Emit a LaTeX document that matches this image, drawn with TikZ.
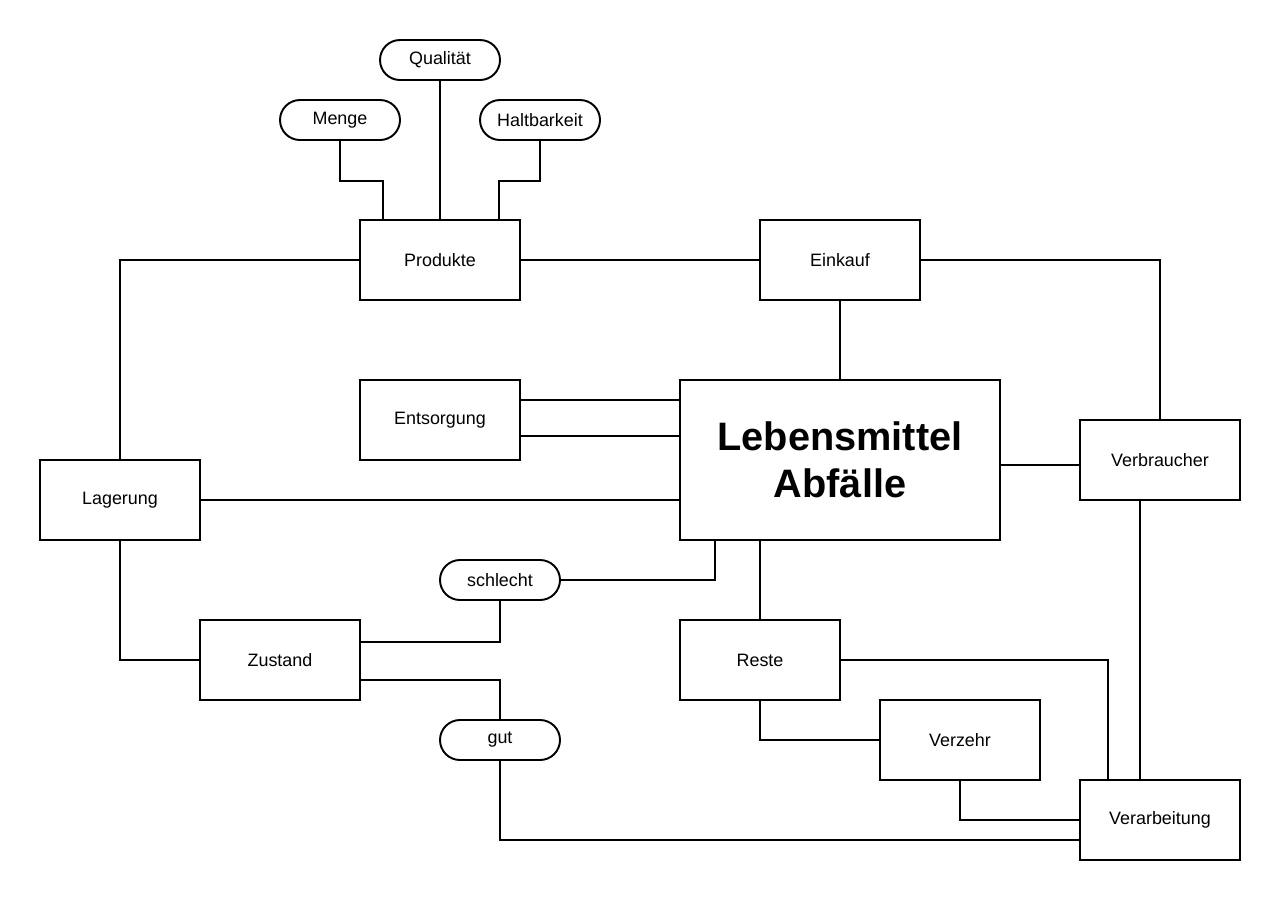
\documentclass[tikz,border=0pt]{standalone}
\usepackage{fontspec}
\setmainfont{Liberation Sans}
\usepackage{tikz}
\usetikzlibrary{shapes, arrows, positioning}
\tikzstyle{kasten} = [draw=black, line width=1.1pt, rectangle, minimum width=3.2cm, minimum height=1.6cm, inner sep=0pt, font=\fontsize{10.2}{12}\selectfont]
\tikzstyle{pille} = [draw=black, line width=1.1pt, rectangle, rounded corners=0.4cm, minimum width=2.4cm, minimum height=0.8cm, inner sep=0pt, font=\fontsize{10.2}{12}\selectfont]
\tikzstyle{haupt} = [draw=black, line width=1.1pt, rectangle, minimum width=6.4cm, minimum height=3.2cm, inner sep=0pt, align=center, font=\fontsize{22.6}{27}\selectfont\bfseries]
\tikzstyle{linie} = [draw=black, line width=1.1pt]

\begin{document}
\begin{tikzpicture}
	\useasboundingbox (0,0) rectangle (25.6,-18);
	% Eigenschaften
	\node [pille] (qualitaet) at (8.8,-1.2) {Qualität};
	\node [pille] (menge) at (6.8,-2.4) {Menge};
	\node [pille] (haltbarkeit) at (10.8,-2.4) {Haltbarkeit};
	% Kästen
	\node [kasten] (produkte) at (8.8,-5.2) {Produkte};
	\node [kasten] (einkauf) at (16.8,-5.2) {Einkauf};
	\node [kasten] (entsorgung) at (8.8,-8.4) {Entsorgung};
	\node [haupt] (abfall) at (16.8,-9.2) {Lebensmittel\\Abfälle};
	\node [kasten] (verbraucher) at (23.2,-9.2) {Verbraucher};
	\node [kasten] (lagerung) at (2.4,-10) {Lagerung};
	\node [pille] (schlecht) at (10,-11.6) {schlecht};
	\node [kasten] (zustand) at (5.6,-13.2) {Zustand};
	\node [kasten] (reste) at (15.2,-13.2) {Reste};
	\node [pille] (gut) at (10,-14.8) {gut};
	\node [kasten] (verzehr) at (19.2,-14.8) {Verzehr};
	\node [kasten] (verarbeitung) at (23.2,-16.4) {Verarbeitung};
	% Verbindungen
	\draw [linie] (menge.south) -- ++(0,-0.8) -| ([xshift=-1.14cm]produkte.north);
	\draw [linie] (qualitaet.south) -- (produkte.north);
	\draw [linie] (haltbarkeit.south) -- ++(0,-0.8) -| ([xshift=1.18cm]produkte.north);
	\draw [linie] (produkte.east) -- (einkauf.west);
	\draw [linie] (produkte.west) -| (lagerung.north);
	\draw [linie] (einkauf.south) -- (abfall.north);
	\draw [linie] (einkauf.east) -| (verbraucher.north);
	\draw [linie] ([yshift=0.4cm]entsorgung.east) -- ([yshift=0.4cm]entsorgung.east -| abfall.west);
	\draw [linie] ([yshift=-0.32cm]entsorgung.east) -- ([yshift=-0.32cm]entsorgung.east -| abfall.west);
	\draw [linie] (lagerung.east) -- (lagerung.east -| abfall.west);
	\draw [linie] ([yshift=-0.1cm]abfall.east) -- ([yshift=-0.1cm]verbraucher.west);
	\draw [linie] ([xshift=-0.4cm]verbraucher.south) -- ([xshift=-0.4cm]verarbeitung.north);
	\draw [linie] ([xshift=-2.5cm]abfall.south) |- (schlecht.east);
	\draw [linie] ([xshift=-1.6cm]abfall.south) -- (reste.north);
	\draw [linie] (lagerung.south) |- (zustand.west);
	\draw [linie] ([yshift=0.36cm]zustand.east) -| (schlecht.south);
	\draw [linie] ([yshift=-0.4cm]zustand.east) -| (gut.north);
	\draw [linie] (gut.south) |- ([yshift=-0.4cm]verarbeitung.west);
	\draw [linie] (reste.east) -| ([xshift=-1.04cm]verarbeitung.north);
	\draw [linie] (reste.south) |- (verzehr.west);
	\draw [linie] (verzehr.south) |- (verarbeitung.west);
\end{tikzpicture}
\end{document}
